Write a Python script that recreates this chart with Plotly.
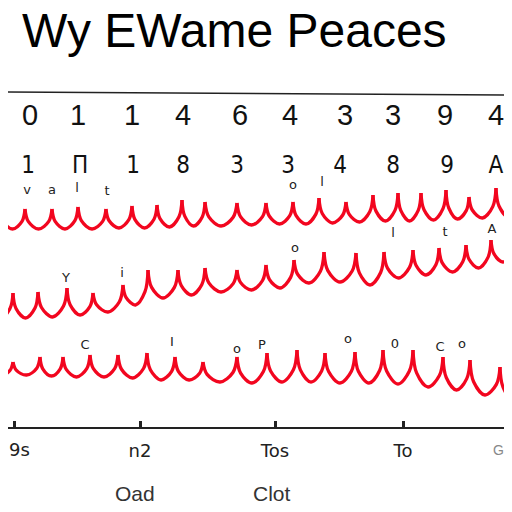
import plotly.graph_objects as go

# title and text rows
title = "Wy EWame Peaces"
row1_labels = ["0", "1", "1", "4", "6", "4", "3", "3", "9", "4"]
row1_x = [30, 78, 132, 183, 240, 290, 345, 393, 445, 496]
row2_labels = ["1", "Π", "1", "8", "3", "3", "4", "8", "9", "A"]
row2_x = [28, 80, 133, 183, 237, 288, 340, 393, 447, 496]

# the three scalloped red lines: cusp x, cusp y, trough y (between cusps)
w1_cusp_x = [-25, 0, 25, 52, 78, 106, 132, 157, 182, 205, 237, 266, 293, 319, 346, 373, 398, 421, 446, 469, 496, 521]
w1_cusp_y = [210, 209, 209, 209, 207, 209, 206, 205, 200, 202, 203, 203, 202, 198, 202, 195, 193, 193, 190, 197, 188, 186]
w1_trough = [229, 229, 229, 229, 229, 228, 228, 227, 226, 226, 225, 224, 224, 223, 222, 221, 221, 220, 219, 218, 217]

w2_cusp_x = [-12, 13, 38, 67, 93, 123, 148, 178, 205, 237, 266, 294, 324, 356, 384, 413, 439, 466, 491, 515]
w2_cusp_y = [295, 293, 292, 288, 293, 285, 270, 270, 268, 270, 265, 260, 252, 253, 252, 250, 248, 245, 240, 235]
w2_trough = [318, 318, 317, 315, 312, 305, 298, 295, 292, 290, 288, 283, 282, 285, 278, 275, 272, 268, 262]

w3_cusp_x = [-14, 13, 40, 63, 90, 118, 147, 175, 203, 237, 267, 297, 325, 355, 383, 413, 443, 470, 500, 526]
w3_cusp_y = [362, 362, 357, 357, 355, 355, 353, 357, 362, 357, 353, 350, 353, 352, 350, 350, 357, 360, 367, 372]
w3_trough = [376, 375, 376, 377, 377, 378, 380, 380, 382, 383, 382, 382, 383, 383, 384, 387, 390, 395, 400]

# little marks sitting on the cusps
marks = ["v", "a", "l", "t", "o", "l", "C", "I", "o", "P", "o", "0", "C", "o", "Y", "i", "o", "l", "t", "A"]
marks_x = [27, 52, 77, 107, 293, 322, 85, 172, 237, 262, 348, 395, 440, 462, 66, 122, 295, 393, 445, 492]
marks_y = [198, 198, 196, 199, 193, 190, 353, 350, 357, 353, 347, 352, 355, 352, 286, 281, 256, 241, 240, 237]

# bottom axis
tick_x = [14, 140, 275, 403]
tick_labels = ["", "n2", "Tos", "To"]
first_label = "9s"
foot_labels = ["Oad", "Clot"]
foot_x = [135, 272]

RED = "#f2061f"

# the page sits 8px in from the top-left corner of the shot
OFF = 8
AXIS_Y = 427                 # bottom axis line, in picture pixels
PLOT_H = AXIS_Y - OFF        # plot height in figure pixels


def paper_y(py):
    return (AXIS_Y - py) / PLOT_H


def scallop(cx, cy, ty):
    # each arch hangs between two cusps; shoulders keep the sides steep
    xs, ys = [], []
    for i in range(len(ty)):
        w = cx[i + 1] - cx[i]
        xs += [cx[i], cx[i] + 0.12 * w, cx[i] + 0.5 * w, cx[i + 1] - 0.12 * w, cx[i + 1], None]
        ys += [cy[i], cy[i] + 0.62 * (ty[i] - cy[i]), ty[i],
               cy[i + 1] + 0.62 * (ty[i] - cy[i + 1]), cy[i + 1], None]
    return xs, ys


fig = go.Figure()

for cx, cy, ty in [(w1_cusp_x, w1_cusp_y, w1_trough),
                   (w2_cusp_x, w2_cusp_y, w2_trough),
                   (w3_cusp_x, w3_cusp_y, w3_trough)]:
    xs, ys = scallop(cx, cy, ty)
    fig.add_trace(go.Scatter(x=xs, y=ys, mode="lines",
                             line=dict(color=RED, width=3.3, shape="spline", smoothing=1.0),
                             hoverinfo="skip"))

fig.add_trace(go.Scatter(x=row1_x, y=[118] * len(row1_x), mode="text", text=row1_labels,
                         textfont=dict(family="Liberation Sans", size=29, color="#111")))
fig.add_trace(go.Scatter(x=row2_x, y=[167] * len(row2_x), mode="text", text=row2_labels,
                         textfont=dict(family="DejaVu Sans Condensed", size=24, color="#111")))
fig.add_trace(go.Scatter(x=marks_x, y=[v - 7 for v in marks_y], mode="text", text=marks,
                         textfont=dict(family="DejaVu Sans", size=13, color="#222")))

fig.add_shape(type="line", x0=0, x1=520, y0=92, y1=95, line=dict(color="#222", width=1.5))

fig.add_annotation(text=title, x=20, y=30, xanchor="left", yanchor="middle", showarrow=False,
                   font=dict(family="Liberation Sans", size=48, color="#000"))

fig.add_annotation(text=first_label, x=19, xref="x", y=paper_y(450), yref="paper",
                   xanchor="center", yanchor="middle", showarrow=False,
                   font=dict(family="DejaVu Sans", size=18, color="#222"))
for lab, fx in zip(foot_labels, foot_x):
    fig.add_annotation(text=lab, x=fx, xref="x", y=paper_y(494), yref="paper",
                       xanchor="center", yanchor="middle", showarrow=False,
                       font=dict(family="Liberation Sans", size=21, color="#333"))
fig.add_annotation(text="G", x=498, xref="x", y=paper_y(450), yref="paper",
                   xanchor="center", yanchor="middle", showarrow=False,
                   font=dict(family="Liberation Sans", size=14, color="#888"))

fig.update_layout(
    width=512, height=512,
    margin=dict(l=0, r=0, t=0, b=512 - PLOT_H),
    paper_bgcolor="white", plot_bgcolor="white",
    showlegend=False,
    xaxis=dict(range=[OFF, OFF + 512], showgrid=False, zeroline=False, automargin=False,
               showline=True, linecolor="#222", linewidth=1.5,
               tickvals=tick_x, ticktext=tick_labels, ticks="inside",
               ticklen=6, tickwidth=3, tickcolor="#222", ticklabelstandoff=7,
               tickfont=dict(family="DejaVu Sans", size=18, color="#222")),
    yaxis=dict(range=[AXIS_Y, OFF], visible=False, automargin=False),
)

fig.write_html("out.html")
